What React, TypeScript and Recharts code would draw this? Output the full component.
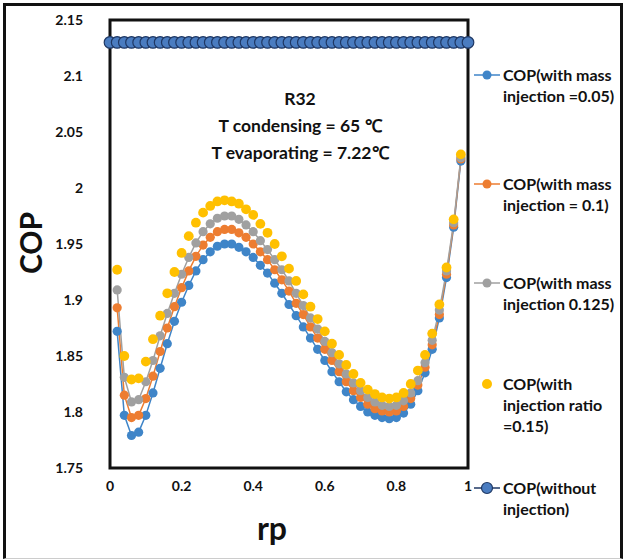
import { LineChart, Line, XAxis, YAxis, ReferenceArea } from "recharts";

// rp values (x axis)
const rp = [
  0, 0.02, 0.04, 0.06, 0.08, 0.1, 0.12, 0.14, 0.16, 0.18, 0.2, 0.22, 0.24, 0.26, 0.28, 0.3, 0.32,
  0.34, 0.36, 0.38, 0.4, 0.42, 0.44, 0.46, 0.48, 0.5, 0.52, 0.54, 0.56, 0.58, 0.6, 0.62, 0.64,
  0.66, 0.68, 0.7, 0.72, 0.74, 0.76, 0.78, 0.8, 0.82, 0.84, 0.86, 0.88, 0.9, 0.92, 0.94, 0.96,
  0.98, 1,
];

// series, rp = 0.02 .. 0.98
const copMass005 = [
  1.872, 1.797, 1.779, 1.782, 1.797, 1.817, 1.839, 1.861, 1.881, 1.898,
  1.913, 1.926, 1.936, 1.943, 1.948, 1.95, 1.95, 1.947, 1.943, 1.938,
  1.931, 1.924, 1.915, 1.906, 1.896, 1.886, 1.876, 1.866, 1.856, 1.846,
  1.836, 1.827, 1.818, 1.811, 1.805, 1.8, 1.797, 1.795, 1.794, 1.795,
  1.799, 1.807, 1.819, 1.835, 1.856, 1.884, 1.92, 1.965, 2.024,
];
const copMass01 = [
  1.893, 1.815, 1.795, 1.797, 1.812, 1.832, 1.854, 1.875, 1.894, 1.911,
  1.926, 1.939, 1.949, 1.956, 1.961, 1.963, 1.963, 1.96, 1.956, 1.95,
  1.943, 1.936, 1.927, 1.918, 1.908, 1.897, 1.887, 1.876, 1.866, 1.856,
  1.846, 1.836, 1.827, 1.819, 1.813, 1.807, 1.803, 1.801, 1.8, 1.801,
  1.805, 1.812, 1.824, 1.84, 1.86, 1.887, 1.923, 1.967, 2.026,
];
const copMass0125 = [
  1.909, 1.831, 1.809, 1.811, 1.827, 1.846, 1.868, 1.888, 1.906, 1.923,
  1.938, 1.951, 1.961, 1.968, 1.973, 1.975, 1.975, 1.972, 1.967, 1.961,
  1.953, 1.945, 1.936, 1.927, 1.917, 1.906, 1.895, 1.884, 1.874, 1.863,
  1.853, 1.843, 1.834, 1.826, 1.819, 1.813, 1.809, 1.806, 1.805, 1.806,
  1.81, 1.817, 1.828, 1.844, 1.864, 1.891, 1.926, 1.969, 2.027,
];
const copRatio015 = [
  1.927, 1.85, 1.829, 1.83, 1.845, 1.865, 1.886, 1.906, 1.925, 1.942,
  1.957, 1.969, 1.978, 1.984, 1.988, 1.989, 1.988, 1.986, 1.981, 1.976,
  1.968, 1.96, 1.95, 1.939, 1.928, 1.917, 1.905, 1.894, 1.883, 1.872,
  1.861, 1.851, 1.842, 1.834, 1.826, 1.82, 1.816, 1.813, 1.812, 1.813,
  1.817, 1.825, 1.837, 1.851, 1.87, 1.896, 1.929, 1.972, 2.03,
];
// rp = 0 .. 1
const copWithout = [
  2.13, 2.13, 2.13, 2.13, 2.13, 2.13, 2.13, 2.13, 2.13, 2.13, 2.13,
  2.13, 2.13, 2.13, 2.13, 2.13, 2.13, 2.13, 2.13, 2.13, 2.13,
  2.13, 2.13, 2.13, 2.13, 2.13, 2.13, 2.13, 2.13, 2.13, 2.13,
  2.13, 2.13, 2.13, 2.13, 2.13, 2.13, 2.13, 2.13, 2.13, 2.13,
  2.13, 2.13, 2.13, 2.13, 2.13, 2.13, 2.13, 2.13, 2.13, 2.13,
];

const xTicks = [0, 0.2, 0.4, 0.6, 0.8, 1];
const yTicks = [1.75, 1.8, 1.85, 1.9, 1.95, 2, 2.05, 2.1, 2.15];

const legendLabels = [
  ["COP(with mass", "injection =0.05)"],
  ["COP(with mass", "injection = 0.1)"],
  ["COP(with mass", "injection 0.125)"],
  ["COP(with", "injection ratio", "=0.15)"],
  ["COP(without", "injection)"],
];
const noteLines = ["R32", "T condensing = 65 \u2103", "T evaporating = 7.22\u2103"];

const pick = (arr: number[], i: number) => (i > 0 && i < rp.length - 1 ? arr[i - 1] : null);

const data = rp.map((x, i) => ({
  rp: x,
  m005: pick(copMass005, i),
  m01: pick(copMass01, i),
  m0125: pick(copMass0125, i),
  r015: pick(copRatio015, i),
  without: copWithout[i],
}));

const BLUE = "#3f85c8";
const ORANGE = "#ed7d31";
const GRAY = "#a0a0a0";
const YELLOW = "#ffc000";
const NAVY = "#4a7cc0";
const NAVY_EDGE = "#1f3864";
const FONT = "Lato, 'Open Sans', sans-serif";

const legendStyle = [
  { top: 64, color: BLUE, line: true, r: 4.5, edge: "none" },
  { top: 173, color: ORANGE, line: true, r: 4.5, edge: "none" },
  { top: 272, color: GRAY, line: true, r: 4.5, edge: "none" },
  { top: 373, color: YELLOW, line: false, r: 5, edge: "none" },
  { top: 477, color: NAVY, line: true, r: 5.5, edge: NAVY_EDGE },
];

export default function App() {
  const tick = { fill: "#111", fontSize: 14, fontWeight: 700, fontFamily: FONT };
  return (
    <div style={{ position: "absolute", left: 0, top: 0, width: 624, height: 559, background: "#fff", fontFamily: FONT }}>
      <div style={{ position: "absolute", left: 3, top: 3, width: 614, height: 552, borderLeft: "3px solid #111", borderTop: "3px solid #111", borderRight: "3px solid #111", borderBottom: "1px solid #ccc" }} />
      <LineChart width={624} height={559} data={data} margin={{ top: 20, right: 156, bottom: 61, left: 0 }}>
        <XAxis
          dataKey="rp"
          type="number"
          domain={[0, 1]}
          ticks={xTicks}
          interval={0}
          height={30}
          tickLine={false}
          axisLine={false}
          tickSize={0}
          tickMargin={13}
          tick={tick}
        />
        <YAxis
          type="number"
          domain={[1.75, 2.15]}
          ticks={yTicks}
          interval={0}
          width={110}
          tickLine={false}
          axisLine={false}
          tickSize={0}
          tickMargin={27}
          tick={tick}
          allowDataOverflow
        />
        <ReferenceArea x1={0} x2={1} y1={1.75} y2={2.15} fill="none" stroke="#111" strokeWidth={3} />
        <Line dataKey="m005" stroke={BLUE} strokeWidth={1.5} dot={{ r: 4.6, fill: BLUE, stroke: "none" }} isAnimationActive={false} />
        <Line dataKey="m01" stroke={ORANGE} strokeWidth={1.5} dot={{ r: 4.6, fill: ORANGE, stroke: "none" }} isAnimationActive={false} />
        <Line dataKey="m0125" stroke={GRAY} strokeWidth={1.5} dot={{ r: 4.6, fill: GRAY, stroke: "none" }} isAnimationActive={false} />
        <Line dataKey="r015" stroke="none" dot={{ r: 4.9, fill: YELLOW, stroke: "none" }} isAnimationActive={false} />
        <Line dataKey="without" stroke={NAVY_EDGE} strokeWidth={1.5} dot={{ r: 5.8, fill: NAVY, stroke: NAVY_EDGE, strokeWidth: 1.2 }} isAnimationActive={false} />
      </LineChart>

      <div style={{ position: "absolute", left: 0, top: 213, width: 60, height: 60, display: "flex", alignItems: "center", justifyContent: "center" }}>
        <div style={{ transform: "rotate(-90deg)", fontSize: 30, fontWeight: 700, color: "#111", whiteSpace: "nowrap" }}>COP</div>
      </div>
      <div style={{ position: "absolute", left: 222, top: 508, width: 100, textAlign: "center", fontSize: 32, fontWeight: 700, color: "#111", lineHeight: "40px" }}>rp</div>

      <div style={{ position: "absolute", left: 180, top: 85, width: 240, textAlign: "center", fontSize: 17.5, fontWeight: 700, color: "#111", lineHeight: "27px" }}>
        {noteLines.map((t) => (
          <div key={t}>{t}</div>
        ))}
      </div>

      {legendLabels.map((lines, i) => {
        const s = legendStyle[i];
        return (
          <div key={i} style={{ position: "absolute", left: 472, top: s.top }}>
            <svg width={30} height={22} style={{ position: "absolute", left: 0, top: 0 }}>
              {s.line && <line x1={2} y1={11} x2={28} y2={11} stroke={s.edge !== "none" ? NAVY_EDGE : s.color} strokeWidth={1.5} />}
              <circle cx={15} cy={11} r={s.r} fill={s.color} stroke={s.edge} strokeWidth={1.2} />
            </svg>
            <div style={{ position: "absolute", left: 31, top: 0, fontSize: 16, fontWeight: 700, color: "#111", lineHeight: "21px", whiteSpace: "nowrap" }}>
              {lines.map((t) => (
                <div key={t}>{t}</div>
              ))}
            </div>
          </div>
        );
      })}
    </div>
  );
}
